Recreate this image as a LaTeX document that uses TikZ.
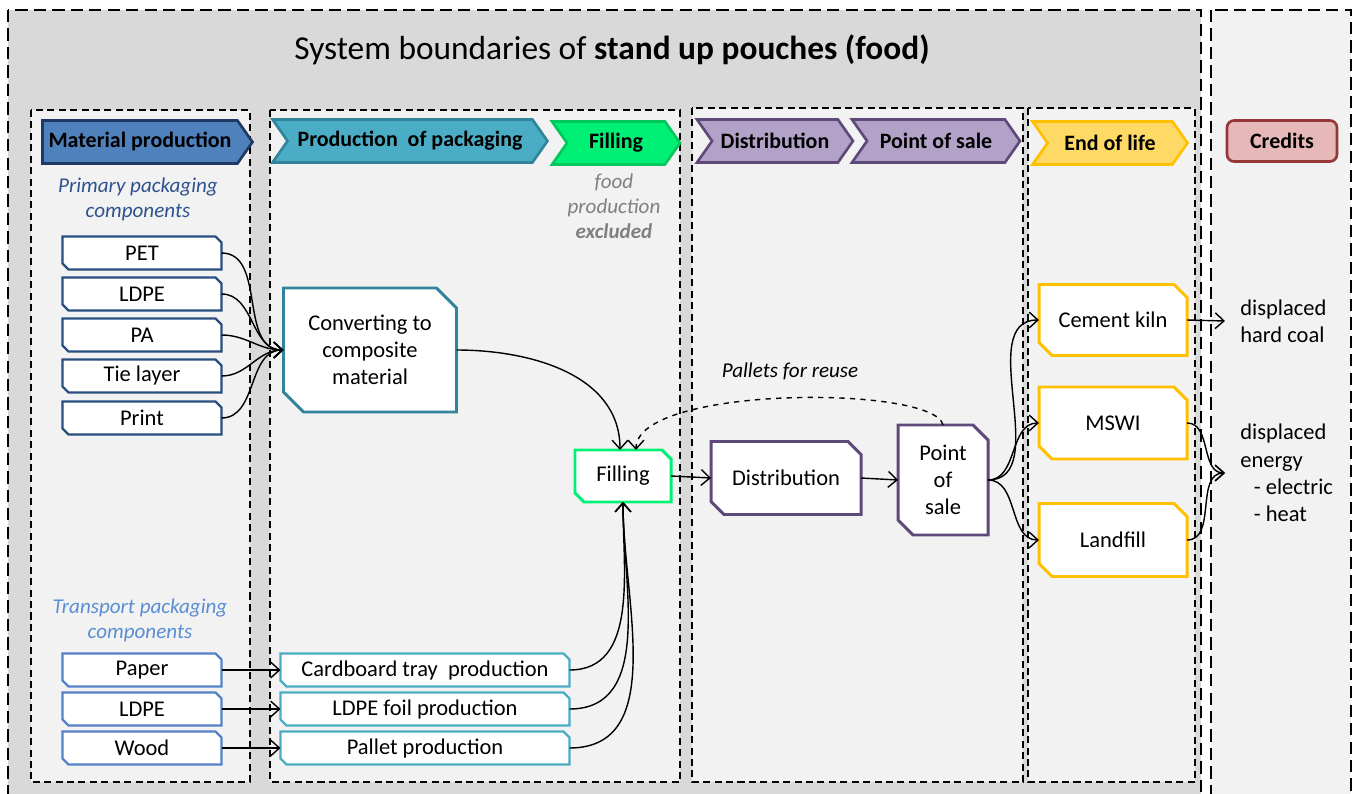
\documentclass[tikz,border=0pt]{standalone}
\usepackage{fontspec}
\setmainfont{Carlito}
\usepackage{tikz}
\usetikzlibrary{shapes.symbols,arrows.meta}
\definecolor{frameGrey}{RGB}{217,217,217}
\definecolor{paneGrey}{RGB}{242,242,242}
\definecolor{matFill}{RGB}{79,129,189}
\definecolor{matLine}{RGB}{31,56,100}
\definecolor{primLine}{RGB}{40,78,128}
\definecolor{primText}{RGB}{47,82,143}
\definecolor{transLine}{RGB}{84,130,200}
\definecolor{transText}{RGB}{90,142,210}
\definecolor{packFill}{RGB}{75,172,198}
\definecolor{packLine}{RGB}{49,132,155}
\definecolor{fillFill}{RGB}{0,240,118}
\definecolor{fillLine}{RGB}{0,200,90}
\definecolor{distFill}{RGB}{178,162,199}
\definecolor{distLine}{RGB}{95,73,122}
\definecolor{eolFill}{RGB}{255,217,102}
\definecolor{eolLine}{RGB}{255,192,0}
\definecolor{credFill}{RGB}{230,184,183}
\definecolor{credLine}{RGB}{149,55,53}
\definecolor{exclText}{RGB}{128,128,128}
% #1 style, #2 name, #3 x, #4 y, #5 width, #6 height, #7 cut, #8 text
\newcommand{\snipbox}[8]{%
    \draw[fill=white,#1] ({#3-#5/2},{#4-#6/2}) -- ({#3+#5/2-#7},{#4-#6/2}) -- ({#3+#5/2},{#4-#6/2+#7})
        -- ({#3+#5/2},{#4+#6/2}) -- ({#3-#5/2+#7},{#4+#6/2}) -- ({#3-#5/2},{#4+#6/2-#7}) -- cycle;
    \node[boxtext,minimum width=#5*0.02cm,minimum height=#6*0.02cm] (#2) at (#3,#4) {#8};}

\begin{document}
\begin{tikzpicture}[x=0.02cm,y=-0.02cm,>={Straight Barb[length=5pt,width=9pt]},
    pane/.style={draw,dash pattern=on 4pt off 2.5pt,line width=0.8pt,fill=paneGrey},
    head/.style={signal,signal to=east,signal from=west,signal pointer angle=110,
        line width=1.5pt,minimum height=0.86cm,inner sep=1pt,
        font=\fontsize{12.5}{14}\selectfont\bfseries},
    boxtext/.style={inner sep=0pt,outer sep=0pt,align=center,font=\fontsize{12.8}{15.5}\selectfont},
    small/.style={line width=1.4pt},
    big/.style={line width=1.7pt},
    credit/.style={font=\fontsize{12.8}{15.5}\selectfont,align=left,anchor=west,inner xsep=0.3cm,inner ysep=2pt},
    lbl/.style={font=\fontsize{12}{14.2}\selectfont\itshape,align=center},
    flow/.style={->,line width=0.8pt}]
    \clip (0,0) rectangle (1356,794);
    \draw[dash pattern=on 7pt off 3.5pt,line width=0.9pt,fill=frameGrey] (8,10) rectangle (1201,810);
    \draw[dash pattern=on 7pt off 3.5pt,line width=0.9pt,fill=paneGrey] (1211,10) rectangle (1351,810);
    \node[font=\fontsize{19}{22}\selectfont] (title) at (612,50) {System boundaries of \textbf{stand up pouches (food)}};
    \draw[pane] (31,110) rectangle (250,782);
    \draw[pane] (270,110) rectangle (680,782);
    \draw[pane] (692,108) rectangle (1023,782);
    \draw[pane] (1028,108) rectangle (1195,782);

    \node[head,signal from=nowhere,fill=matFill,draw=matLine,minimum width=4.2cm] (matHead) at (140,142) {Material production};
    \node[head,fill=packFill,draw=packLine,minimum width=5.5cm] (packHead) at (410,141) {Production\ \ of packaging};
    \node[head,fill=fillFill,draw=fillLine,minimum width=2.56cm] (fillHead) at (616,143) {Filling};
    \node[head,fill=distFill,draw=distLine,minimum width=3.12cm] (distHead) at (775,141) {Distribution};
    \node[head,fill=distFill,draw=distLine,minimum width=3.36cm] (saleHead) at (936,141) {Point of sale};
    \node[head,fill=eolFill,draw=eolLine,minimum width=3.1cm] (eolHead) at (1110,143) {End of life};
    \node[rounded corners=4pt,fill=credFill,draw=credLine,line width=1.5pt,minimum width=2.2cm,minimum height=0.82cm,
        font=\fontsize{12.5}{14}\selectfont\bfseries] (credHead) at (1282,141) {Credits};

    \node[lbl,text=primText] (primLbl) at (138,199) {Primary packaging\\components};
    \node[lbl,text=exclText] (exclLbl) at (614,206) {food\\production\\\textbf{excluded}};
    \node[lbl,text=transText] (transLbl) at (140,620) {Transport packaging\\components};

    \snipbox{big,draw=packLine}{conv}{370}{350}{173}{124}{20}{Converting to\\composite\\material}
    \foreach \n/\t/\y in {pet/PET/253,ldpeA/LDPE/294,pa/PA/335,tie/Tie layer/376,print/Print/418}
    {
        \snipbox{small,draw=primLine}{\n}{142}{\y}{159}{33}{6}{\t}
        \draw[flow] (\n.east) to[out=0,in=180] (conv.west);
    }
    \snipbox{big,draw=fillFill}{fill}{623}{476}{96}{52}{9}{Filling}
    \snipbox{big,draw=distLine}{dist}{786}{478}{150}{73}{13}{Distribution}
    \snipbox{big,draw=distLine}{sale}{943}{480}{90}{110}{15}{Point\\of\\sale}
    \snipbox{big,draw=eolLine}{kiln}{1113}{320}{148}{71}{13}{Cement kiln}
    \snipbox{big,draw=eolLine}{mswi}{1113}{423}{148}{72}{13}{MSWI}
    \snipbox{big,draw=eolLine}{land}{1113}{540}{148}{73}{13}{Landfill}
    \node[credit] (coal) at (1225,321) {displaced\\hard coal};
    \node[credit] (energy) at (1225,473) {displaced\\energy\\\hspace{0.6em}- electric\\\hspace{0.6em}- heat};

    \foreach \n/\t/\p/\q/\y in {paper/Paper/tray/Cardboard tray\ \ production/670,ldpeB/LDPE/foil/LDPE foil production/709,wood/Wood/pallet/Pallet production/748}
    {
        \snipbox{small,draw=transLine}{\n}{142}{\y}{159}{33}{6}{\t}
        \snipbox{small,draw=packFill}{\p}{425}{\y}{289}{33}{6}{\q}
        \draw[flow] (\n.east) -- (\p.west);
        \draw[flow] (\p.east) to[out=0,in=270] (fill.south);
    }

    \draw[flow] (conv.east) to[out=0,in=90] ([xshift=-0.06cm]fill.north);
    \draw[flow,dashed] (sale.north) .. controls (935,385) and (636,385) .. ([xshift=0.26cm]fill.north);
    \node[lbl] (reuse) at (790,371) {Pallets for reuse};
    \draw[flow] (fill.east) -- (dist.west);
    \draw[flow] (dist.east) -- (sale.west);
    \foreach \e in {kiln,mswi,land}
        \draw[flow] (sale.east) to[out=0,in=180] (\e.west);
    \draw[flow] (kiln.east) -- (coal.west);
    \draw[flow] (mswi.east) to[out=0,in=180] (energy.west);
    \draw[flow] (land.east) to[out=0,in=180] (energy.west);
\end{tikzpicture}
\end{document}
